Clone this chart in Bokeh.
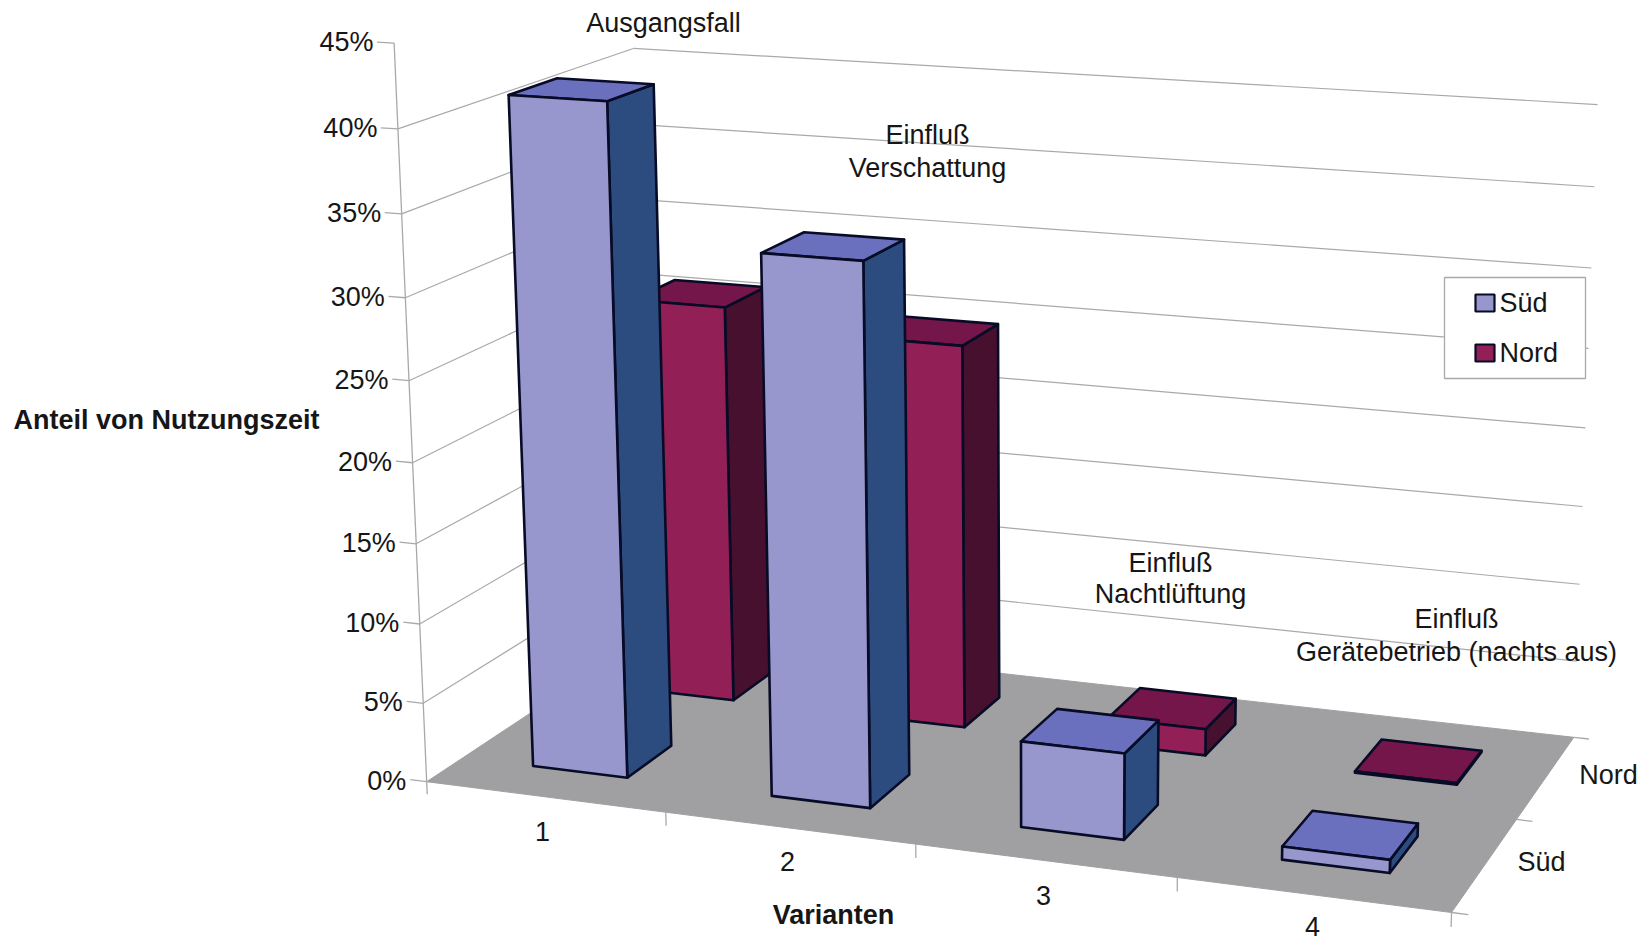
import numpy as np
from bokeh.core.properties import value
from bokeh.embed import file_html
from bokeh.models import ColumnDataSource, Range1d
from bokeh.plotting import figure
from bokeh.resources import INLINE

# Share of usage time (percent) per variant and facade
variants = ["1", "2", "3", "4"]
sued_values = [41.5, 33.2, 5.3, 0.8]
nord_values = [25.9, 24.7, 1.7, 0.1]
series_names = ["Süd", "Nord"]
percent_ticks = [0, 5, 10, 15, 20, 25, 30, 35, 40, 45]
wall_levels = [5, 10, 15, 20, 25, 30, 35, 40]

# Bar fill colours: front, top, side
SUED_FACES = ("#9897cd", "#6a70bd", "#2c4c80")
NORD_FACES = ("#931f57", "#74164a", "#47102e")
EDGE = "#080b26"
GRID = "#a9a9a9"
FLOOR = "#a0a0a3"
TEXT = "#161616"
FONT = value("Liberation Sans")

# Camera anchors: (variant axis, percent, depth) -> page pixel
anchors = [
    ((0, 0, 0), (428, 781)), ((4, 0, 0), (1451, 911)), ((4, 0, 2), (1572, 737)),
    ((0, 0, 2), (649, 634)), ((0, 40, 2), (633, 47)), ((4, 40, 2), (1597, 105)),
    ((0, 40, 0), (398, 128)), ((0, 45, 0), (393, 43)), ((1, 0, 0), (664, 812)),
    ((2, 0, 0), (914, 845)), ((3, 0, 0), (1176, 877)), ((4, 0, 1), (1519, 818)),
]
rows, rhs = [], []
for (a, b, c), (u, v) in anchors:
    rows.append([a, b, c, 1, 0, 0, 0, 0, -u * a, -u * b, -u * c])
    rows.append([0, 0, 0, 0, a, b, c, 1, -v * a, -v * b, -v * c])
    rhs += [u, v]
camera = np.append(np.linalg.lstsq(np.array(rows, float), np.array(rhs, float), rcond=None)[0], 1).reshape(3, 4)


def project(a, b, c):
    """Map chart coordinates to page pixels."""
    h = camera @ np.array([a, b, c, 1.0])
    return float(h[0] / h[2]), float(h[1] / h[2])


def segment(start, end):
    p0, p1 = project(*start), project(*end)
    return [p0[0], p1[0]], [p0[1], p1[1]]


def polygon(points):
    pts = [project(*q) for q in points]
    return [q[0] for q in pts], [q[1] for q in pts]


p = figure(width=1643, height=942, x_range=Range1d(0, 1643), y_range=Range1d(942, 0),
           x_axis_type=None, y_axis_type=None, toolbar_location=None, output_backend="svg",
           min_border=0, outline_line_color=None, background_fill_color="white")
p.grid.visible = False

# Walls: gridlines along the side wall and the back wall
wall_x, wall_y = [], []
for level in wall_levels:
    for start, end in (((0, level, 0), (0, level, 2)), ((0, level, 2), (4, level, 2))):
        xs, ys = segment(start, end)
        wall_x.append(xs)
        wall_y.append(ys)
p.multi_line(wall_x, wall_y, line_color=GRID, line_width=1.2)

# Floor
fx, fy = polygon([(0, 0, 0), (4, 0, 0), (4, 0, 2), (0, 0, 2)])
p.patch(fx, fy, fill_color=FLOOR, line_color=FLOOR, line_width=1)

# Axis lines and tick marks
axis_x, axis_y = [], []
segments = [((0, -0.8, 0), (0, 45, 0)), ((4, -0.85, 0), (4, 0, 0))]
segments += [((-0.07, v, 0), (0, v, 0)) for v in percent_ticks]
segments += [((c, -0.85, 0), (c, 0, 0)) for c in (1, 2, 3)]
segments += [((4, 0, d), (4.06, 0, d)) for d in (0, 1, 2)]
for start, end in segments:
    xs, ys = segment(start, end)
    axis_x.append(xs)
    axis_y.append(ys)
p.multi_line(axis_x, axis_y, line_color=GRID, line_width=1.3)

# Bars, back row first so the front row covers it
face_x, face_y, face_fill = [], [], []


def add_bar(slot, depth_slot, height, colours):
    x0, x1 = slot + 0.3, slot + 0.7
    z0, z1 = depth_slot + 0.3, depth_slot + 0.7
    faces = [
        ([(x1, 0, z0), (x1, 0, z1), (x1, height, z1), (x1, height, z0)], colours[2]),
        ([(x0, height, z0), (x1, height, z0), (x1, height, z1), (x0, height, z1)], colours[1]),
        ([(x0, 0, z0), (x1, 0, z0), (x1, height, z0), (x0, height, z0)], colours[0]),
    ]
    for corners, colour in faces:
        xs, ys = polygon(corners)
        face_x.append(xs)
        face_y.append(ys)
        face_fill.append(colour)


for i, h in enumerate(nord_values):
    add_bar(i, 1, h, NORD_FACES)
for i, h in enumerate(sued_values):
    add_bar(i, 0, h, SUED_FACES)
p.patches(xs="xs", ys="ys", fill_color="fill", line_color=EDGE, line_width=2.6, line_join="round",
          source=ColumnDataSource(dict(xs=face_x, ys=face_y, fill=face_fill)))

# Percent tick labels
label_x, label_y = [], []
for v in percent_ticks:
    px, py = project(0, v, 0)
    label_x.append(px - 20.5)
    label_y.append(py - 1)
p.text(label_x, label_y, text=[f"{v}%" for v in percent_ticks], text_align="right", text_baseline="middle",
       text_font=FONT, text_font_size="27px", text_color=TEXT)


def label(x, y, text, align="center", style="normal"):
    p.text([x], [y], text=[text], text_align=align, text_baseline="middle", text_font=FONT,
           text_font_size="27px", text_font_style=style, text_color=TEXT)


# Variant and depth axis labels
for x, y, name in zip([542, 787, 1043, 1312], [831, 861, 895, 926], variants):
    label(x, y, name)
label(1608, 774, series_names[1])
label(1541, 861, series_names[0])

# Axis titles
label(13, 419, "Anteil von Nutzungszeit", align="left", style="bold")
label(833, 914, "Varianten", style="bold")

# Annotations
label(663, 22, "Ausgangsfall")
label(927, 134, "Einfluß")
label(927, 167, "Verschattung")
label(1170, 562, "Einfluß")
label(1170, 593, "Nachtlüftung")
label(1456, 618, "Einfluß")
label(1456, 651, "Gerätebetrieb (nachts aus)")

# Legend
p.quad(left=[1444], right=[1585], top=[277], bottom=[378], fill_color="white", line_color=GRID, line_width=1.3)
p.quad(left=[1475, 1475], right=[1494, 1494], top=[294, 344], bottom=[311, 361],
       fill_color=[SUED_FACES[0], NORD_FACES[0]], line_color=EDGE, line_width=2.2)
label(1499, 302, series_names[0], align="left")
label(1499, 352, series_names[1], align="left")

open("out.html", "w").write(file_html(p, INLINE))
